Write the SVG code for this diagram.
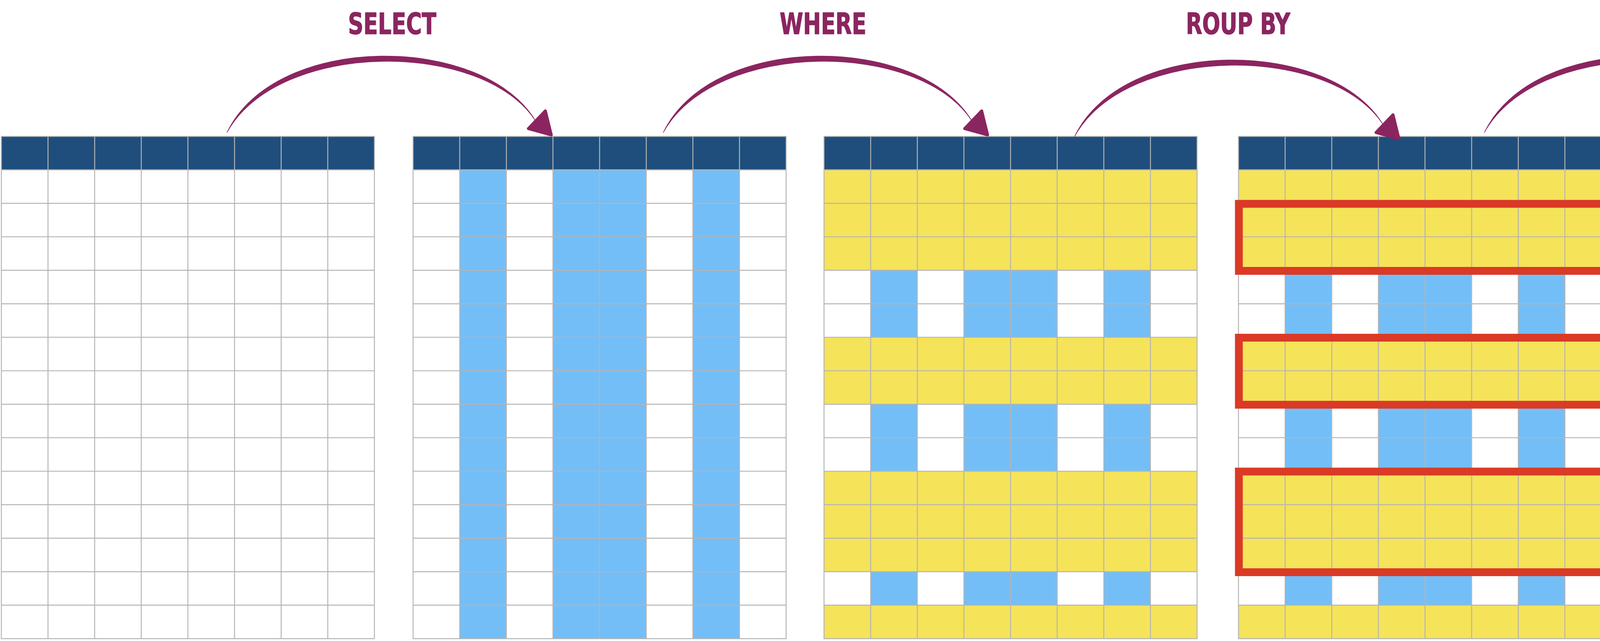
<svg xmlns="http://www.w3.org/2000/svg" xmlns:xlink="http://www.w3.org/1999/xlink" width="5244" height="1640" viewBox="0 0 5244 1640">
<style>
.bg{fill:#ffffff}
.hdr{fill:#1F4E7C}
.blue{fill:#74BEF7}
.yel{fill:#F5E35A}
.pink{fill:#F19B91}
.grid{fill:none;stroke:#B4B4B4;stroke-width:2.4}
.box{fill:none;stroke:#DA3A26;stroke-width:20}
.arc{fill:#8B2560;stroke:#8B2560;stroke-width:1.5;stroke-linejoin:round}
.head{fill:#8B2560;stroke:#8B2560;stroke-width:8;stroke-linejoin:round}
.lbl{fill:#8B2560;stroke:#8B2560;stroke-width:1.5;stroke-linejoin:round;font-family:"DejaVu Sans Condensed","Liberation Sans Narrow","Liberation Sans",sans-serif;font-size:75px;font-weight:bold}
</style>
<defs>
<path id="gridlines" class="grid" d="M0,0H955V1285H0Z M119.4,0V1285 M238.8,0V1285 M358.1,0V1285 M477.5,0V1285 M596.9,0V1285 M716.3,0V1285 M835.6,0V1285 M0,85.5H955 M0,171.2H955 M0,256.9H955 M0,342.5H955 M0,428.2H955 M0,513.9H955 M0,599.6H955 M0,685.3H955 M0,770.9H955 M0,856.6H955 M0,942.3H955 M0,1028H955 M0,1113.7H955 M0,1199.3H955"/>
<g id="base">
<rect class="bg" x="0" y="0" width="955" height="1285"/>
<rect class="hdr" x="0" y="0" width="955" height="85.5"/>
</g>
<g id="bluecols">
<rect class="blue" x="119.4" y="85.5" width="119.4" height="1199.5"/>
<rect class="blue" x="358.1" y="85.5" width="238.2" height="1199.5"/>
<rect class="blue" x="716.3" y="85.5" width="119.3" height="1199.5"/>
</g>
<g id="yelrows">
<rect class="yel" x="0" y="85.5" width="955" height="257"/>
<rect class="yel" x="0" y="513.9" width="955" height="171.4"/>
<rect class="yel" x="0" y="856.6" width="955" height="257.1"/>
<rect class="yel" x="0" y="1199.3" width="955" height="85.7"/>
</g>
<g id="boxes">
<rect class="box" x="1" y="172.5" width="955" height="171.5"/>
<rect class="box" x="1" y="515" width="955" height="171.5"/>
<rect class="box" x="1" y="857.5" width="955" height="257.5"/>
</g>
<g id="arrow">
<path class="arc" d="M581,339 C706,80 1240,86 1372,311 C1240,102 714,100 581,339 Z"/>
<path class="head" d="M1411,345 L1396,284 L1353,329 Z"/>
</g>
</defs>

<g id="table-1" transform="translate(3.5,349)">
<use href="#base"/>
<use href="#gridlines"/>
</g>

<g id="table-2-select" transform="translate(1057.5,349)">
<use href="#base"/>
<use href="#bluecols"/>
<use href="#gridlines"/>
</g>

<g id="table-3-where" transform="translate(2109.5,349)">
<use href="#base"/>
<use href="#bluecols"/>
<use href="#yelrows"/>
<use href="#gridlines"/>
</g>

<g id="table-4-groupby" transform="translate(3170.5,349)">
<use href="#base"/>
<use href="#bluecols"/>
<use href="#yelrows"/>
<use href="#gridlines"/>
<use href="#boxes"/>
</g>

<g id="table-5-having" transform="translate(4275.5,349)">
<use href="#base"/>
<use href="#bluecols"/>
<use href="#yelrows"/>
<rect class="pink" x="0" y="171.2" width="955" height="171.3"/>
<rect class="pink" x="0" y="856.6" width="955" height="257.1"/>
<use href="#gridlines"/>
<use href="#boxes"/>
</g>

<g id="connectors">
<use href="#arrow"/>
<use href="#arrow" transform="translate(1117,0)"/>
<use href="#arrow" transform="translate(2170,10)"/>
<use href="#arrow" transform="translate(3219,0)"/>
</g>

<g id="labels">
<text class="lbl" x="891" y="87" textLength="226" lengthAdjust="spacingAndGlyphs">SELECT</text>
<text class="lbl" x="1996" y="87" textLength="222" lengthAdjust="spacingAndGlyphs">WHERE</text>
<text class="lbl" x="3036" y="87" textLength="267" lengthAdjust="spacingAndGlyphs">ROUP BY</text>
<text class="lbl" x="4096" y="87" textLength="227" lengthAdjust="spacingAndGlyphs">HAVING</text>
</g>
</svg>
